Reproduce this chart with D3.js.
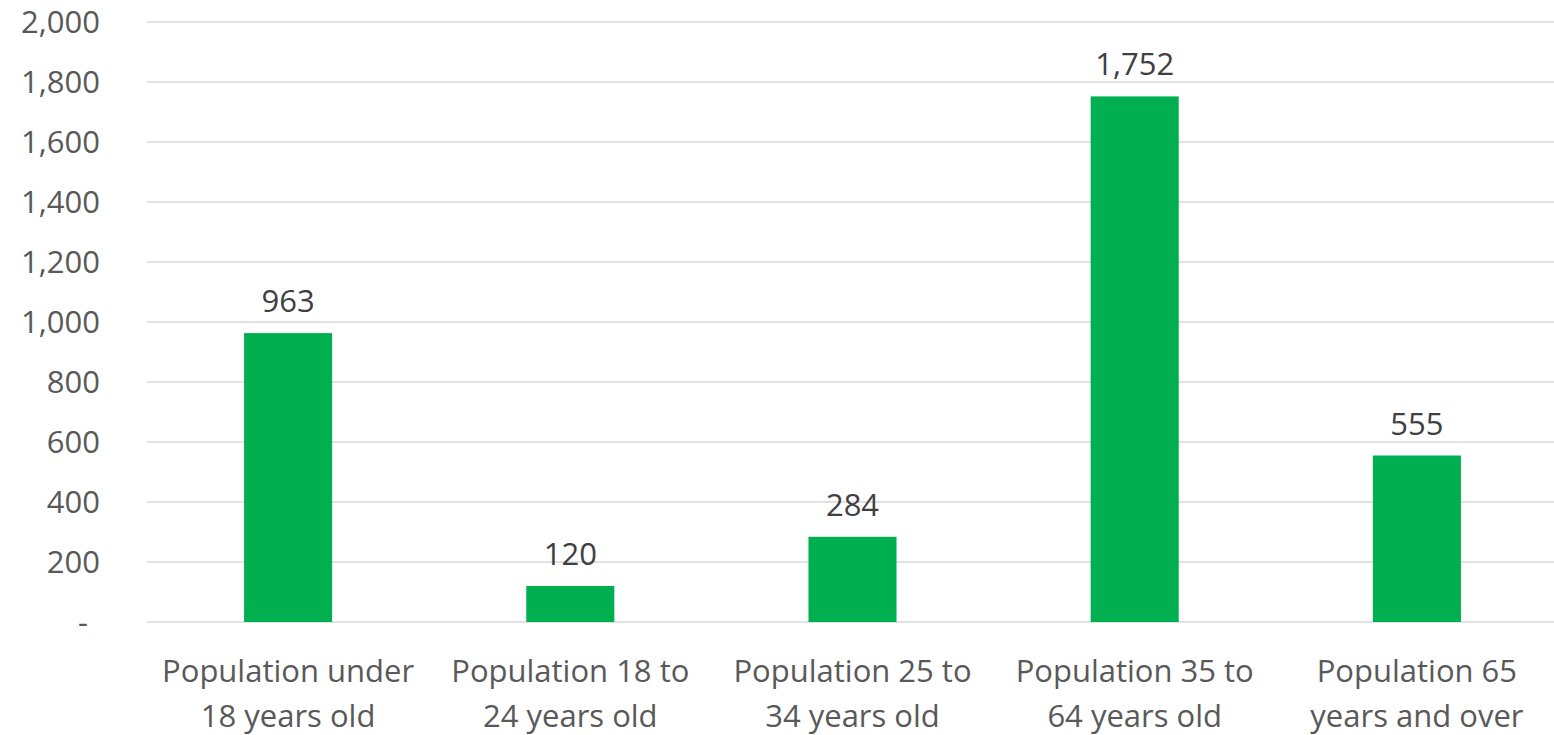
<!DOCTYPE html>
<html>
<head>
<meta charset="utf-8">
<script src="https://cdn.jsdelivr.net/npm/d3@7"></script>
<style>
  body { margin: 0; background: #fff; overflow: hidden; }
  svg text { font-family: "Open Sans", sans-serif; }
</style>
</head>
<body>
<div id="chart"></div>
<script>
'use strict'

var categories = [
  ['Population under', '18 years old'],
  ['Population 18 to', '24 years old'],
  ['Population 25 to', '34 years old'],
  ['Population 35 to', '64 years old'],
  ['Population 65', 'years and over']
]
var values = [963, 120, 284, 1752, 555]
var yTicks = [0, 200, 400, 600, 800, 1000, 1200, 1400, 1600, 1800, 2000]

var W = 1554, H = 735
  , m = { left: 147, right: -4, top: 22, bottom: 113 }
  , svg = d3.select('#chart').append('svg').attr('width', W).attr('height', H)
  , x = d3.scaleBand().domain(d3.range(values.length)).range([m.left, W - m.right]).paddingInner(0.688).paddingOuter(0.344)
  , y = d3.scaleLinear().domain([0, 2000]).range([H - m.bottom, m.top])
  , fmt = d3.format(',')
  , fs = '31px'

// gridlines
svg.append('g').selectAll('line').data(yTicks).enter().append('line')
  .attr('x1', m.left).attr('x2', W)
  .attr('y1', function(d){ return y(d) }).attr('y2', function(d){ return y(d) })
  .attr('stroke', '#d9d9d9').attr('stroke-width', 1.5)

// y labels
svg.append('g').selectAll('text').data(yTicks).enter().append('text')
  .attr('x', 100).attr('y', function(d){ return y(d) + 11 })
  .attr('text-anchor', function(d){ return d === 0 ? 'middle' : 'end' })
  .attr('dx', function(d){ return d === 0 ? -17 : 0 })
  .attr('fill', '#595959').style('font-size', fs)
  .text(function(d){ return d === 0 ? '-' : fmt(d) })

// bars
svg.append('g').selectAll('rect').data(values).enter().append('rect')
  .attr('x', function(d, i){ return x(i) }).attr('width', x.bandwidth())
  .attr('y', function(d){ return y(d) }).attr('height', function(d){ return y(0) - y(d) })
  .attr('fill', '#00b050')

// value labels
svg.append('g').selectAll('text').data(values).enter().append('text')
  .attr('x', function(d, i){ return x(i) + x.bandwidth() / 2 })
  .attr('y', function(d){ return y(d) - 21 })
  .attr('text-anchor', 'middle').attr('fill', '#404040').style('font-size', fs)
  .text(function(d){ return fmt(d) })

// category labels
var cat = svg.append('g').selectAll('text').data(categories).enter().append('text')
  .attr('text-anchor', 'middle').attr('fill', '#595959').style('font-size', fs)
cat.each(function(d, i){
  var t = d3.select(this), cx = x(i) + x.bandwidth() / 2
  d.forEach(function(s, j){
    t.append('tspan').attr('x', cx).attr('y', 682 + j * 45).text(s)
  })
})
</script>
</body>
</html>
